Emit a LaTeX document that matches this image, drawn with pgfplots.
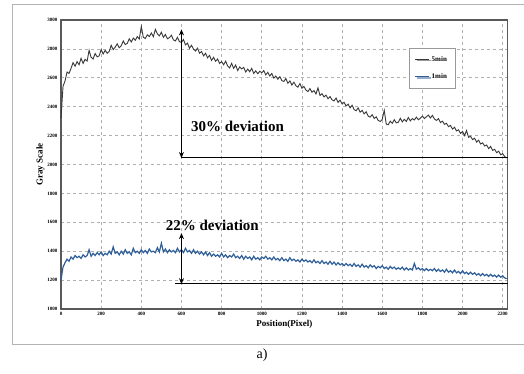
\documentclass[border=0pt]{standalone}
\usepackage{pgfplots}
\pgfplotsset{compat=1.18}
\usepackage{pgfplotstable}
\usepackage{fontspec}
\setmainfont{Liberation Serif}
\usetikzlibrary{arrows.meta,shadows}
\definecolor{fivemin}{HTML}{383838}
\definecolor{onemin}{HTML}{2F5F99}
\definecolor{framegray}{HTML}{B4B4B4}
\definecolor{gridgray}{HTML}{B0B0B0}
\pgfplotstableread{
x y
0 2320
10 2540
20 2578
30 2640
40 2630
50 2665
60 2705
70 2680
80 2712
90 2690
100 2735
110 2700
120 2728
130 2715
140 2790
150 2742
160 2730
170 2768
180 2745
190 2752
200 2795
210 2765
220 2790
230 2770
240 2782
250 2825
260 2795
270 2812
280 2835
290 2808
300 2822
310 2855
320 2830
330 2838
340 2870
350 2848
360 2875
370 2860
380 2885
390 2868
400 2955
410 2880
420 2872
430 2898
440 2885
450 2910
460 2885
470 2935
480 2905
490 2890
500 2915
510 2880
520 2900
530 2870
540 2878
550 2895
560 2862
570 2855
580 2880
590 2850
600 2845
610 2865
620 2828
630 2840
640 2805
650 2825
660 2798
670 2785
680 2805
690 2770
700 2782
710 2752
720 2770
730 2738
740 2755
750 2720
760 2742
770 2715
780 2730
790 2700
800 2712
810 2690
820 2715
830 2682
840 2668
850 2700
860 2665
870 2688
880 2650
890 2675
900 2662
910 2672
920 2640
930 2660
940 2642
950 2665
960 2630
970 2648
980 2628
990 2645
1000 2635
1010 2650
1020 2620
1030 2638
1040 2612
1050 2630
1060 2598
1070 2612
1080 2590
1090 2608
1100 2580
1110 2575
1120 2595
1130 2562
1140 2578
1150 2550
1160 2570
1170 2545
1180 2535
1190 2560
1200 2528
1210 2540
1220 2515
1230 2505
1240 2525
1250 2500
1260 2512
1270 2488
1280 2530
1290 2478
1300 2490
1310 2468
1320 2480
1330 2455
1340 2470
1350 2448
1360 2440
1370 2460
1380 2430
1390 2445
1400 2420
1410 2430
1420 2405
1430 2418
1440 2392
1450 2410
1460 2380
1470 2372
1480 2392
1490 2362
1500 2375
1510 2350
1520 2365
1530 2335
1540 2328
1550 2345
1560 2318
1570 2330
1580 2305
1590 2298
1600 2312
1610 2375
1620 2280
1630 2275
1640 2300
1650 2285
1660 2310
1670 2288
1680 2292
1690 2320
1700 2295
1710 2312
1720 2298
1730 2325
1740 2302
1750 2318
1760 2308
1770 2328
1780 2310
1790 2320
1800 2335
1810 2318
1820 2330
1830 2342
1840 2322
1850 2340
1860 2315
1870 2305
1880 2318
1890 2290
1900 2300
1910 2278
1920 2285
1930 2262
1940 2270
1950 2245
1960 2258
1970 2232
1980 2240
1990 2215
2000 2228
2010 2200
2020 2235
2030 2188
2040 2195
2050 2172
2060 2182
2070 2155
2080 2168
2090 2142
2100 2150
2110 2128
2120 2135
2130 2110
2140 2125
2150 2098
2160 2105
2170 2082
2180 2092
2190 2068
2200 2075
2210 2055
2220 2045
}\fivemintable
\pgfplotstableread{
x y
0 1200
10 1290
20 1320
30 1345
40 1330
50 1360
60 1345
70 1370
80 1355
90 1365
100 1350
110 1375
120 1360
130 1370
140 1410
150 1365
160 1385
170 1370
180 1390
190 1375
200 1395
210 1370
220 1385
230 1375
240 1400
250 1380
260 1430
270 1385
280 1395
290 1375
300 1400
310 1380
320 1410
330 1385
340 1395
350 1375
360 1420
370 1390
380 1400
390 1385
400 1410
410 1390
420 1405
430 1385
440 1415
450 1395
460 1400
470 1390
480 1425
490 1395
500 1455
510 1395
520 1415
530 1390
540 1410
550 1395
560 1405
570 1390
580 1420
590 1395
600 1410
610 1390
620 1420
630 1395
640 1405
650 1385
660 1410
670 1385
680 1400
690 1380
700 1395
710 1375
720 1395
730 1370
740 1390
750 1365
760 1380
770 1365
780 1375
790 1360
800 1385
810 1360
820 1375
830 1355
840 1370
850 1360
860 1380
870 1355
880 1365
890 1350
900 1370
910 1345
920 1365
930 1350
940 1360
950 1340
960 1365
970 1345
980 1355
990 1340
1000 1360
1010 1350
1020 1365
1030 1345
1040 1355
1050 1340
1060 1360
1070 1340
1080 1350
1090 1335
1100 1355
1110 1335
1120 1345
1130 1330
1140 1355
1150 1335
1160 1345
1170 1330
1180 1340
1190 1325
1200 1345
1210 1330
1220 1340
1230 1325
1240 1335
1250 1320
1260 1340
1270 1320
1280 1330
1290 1315
1300 1335
1310 1315
1320 1325
1330 1310
1340 1330
1350 1310
1360 1325
1370 1305
1380 1320
1390 1305
1400 1315
1410 1300
1420 1315
1430 1300
1440 1310
1450 1295
1460 1315
1470 1295
1480 1305
1490 1290
1500 1310
1510 1290
1520 1300
1530 1285
1540 1305
1550 1290
1560 1300
1570 1280
1580 1295
1590 1285
1600 1300
1610 1280
1620 1290
1630 1275
1640 1295
1650 1280
1660 1290
1670 1275
1680 1285
1690 1275
1700 1290
1710 1270
1720 1285
1730 1270
1740 1280
1750 1270
1760 1315
1770 1275
1780 1285
1790 1270
1800 1280
1810 1265
1820 1280
1830 1265
1840 1275
1850 1265
1860 1280
1870 1260
1880 1275
1890 1260
1900 1270
1910 1255
1920 1275
1930 1255
1940 1265
1950 1250
1960 1270
1970 1250
1980 1260
1990 1245
2000 1265
2010 1245
2020 1255
2030 1240
2040 1255
2050 1240
2060 1250
2070 1235
2080 1245
2090 1230
2100 1245
2110 1230
2120 1240
2130 1225
2140 1240
2150 1225
2160 1235
2170 1220
2180 1235
2190 1220
2200 1230
2210 1215
2220 1210
}\oneminntable
\begin{document}
\begin{tikzpicture}
\useasboundingbox (-61pt,-65pt) rectangle (463pt,309pt);
\draw[framegray, line width=1pt] (463pt,304pt) -- (-48pt,304pt) -- (-48pt,-36pt) -- (463pt,-36pt);
\node[font=\fontsize{14}{16}\selectfont] at (201pt,-46pt) {a)};
\begin{axis}[
  at={(0pt,0pt)}, anchor=south west,
  scale only axis, width=446.7pt, height=289pt,
  xmin=0, xmax=2225, ymin=1000, ymax=3000,
  xtick={0,200,...,2200}, ytick={1000,1200,...,3000},
  grid=major,
  major grid style={dashed, gridgray, line width=0.7pt},
  axis line style={draw=black!65, line width=1.3pt},
  tick style={draw=none},
  /pgf/number format/assume math mode=true,
  /pgf/number format/1000 sep={},
  tick label style={font=\fontsize{5}{6}\selectfont\bfseries},
  xlabel={Position(Pixel)}, ylabel={Gray Scale},
  xlabel style={font=\fontsize{9}{10}\selectfont\bfseries, yshift=3pt},
  ylabel style={font=\fontsize{9}{10}\selectfont\bfseries, yshift=-4pt},
  legend style={at={(axis cs:1733,2806)}, anchor=north west,
    font=\fontsize{7}{8}\selectfont\bfseries, draw=black!40, fill=white,
    drop shadow={shadow xshift=1.2pt, shadow yshift=-1.2pt, fill=black!30},
    row sep=7pt, inner xsep=6pt, inner ysep=6pt},
  legend cell align=left,
  legend image code/.code={\draw[#1, line width=0.6pt] (0pt,0pt) -- (14pt,0pt);},
  clip=false,
]
\addplot[fivemin, line width=0.9pt] table[x=x,y=y] {\fivemintable};
\addlegendentry{5min}
\addplot[onemin, line width=1.2pt] table[x=x,y=y] {\oneminntable};
\addlegendentry{1min}
\draw[black, line width=0.9pt] (axis cs:600,2050) -- (axis cs:2225,2050);
\draw[black, line width=1.3pt, {Stealth[length=6pt,width=5pt]}-{Stealth[length=6pt,width=5pt]}] (axis cs:600,2935) -- (axis cs:600,2045);
\node[font=\fontsize{15}{17}\selectfont\bfseries, anchor=west] at (axis cs:630,2265) {30\% deviation};
\draw[black, line width=0.9pt] (axis cs:570,1175) -- (axis cs:2225,1175);
\draw[black, line width=1.3pt, {Stealth[length=6pt,width=5pt]}-{Stealth[length=6pt,width=5pt]}] (axis cs:600,1525) -- (axis cs:600,1172);
\node[font=\fontsize{15}{17}\selectfont\bfseries, anchor=west] at (axis cs:505,1582) {22\% deviation};
\end{axis}
\end{tikzpicture}
\end{document}
